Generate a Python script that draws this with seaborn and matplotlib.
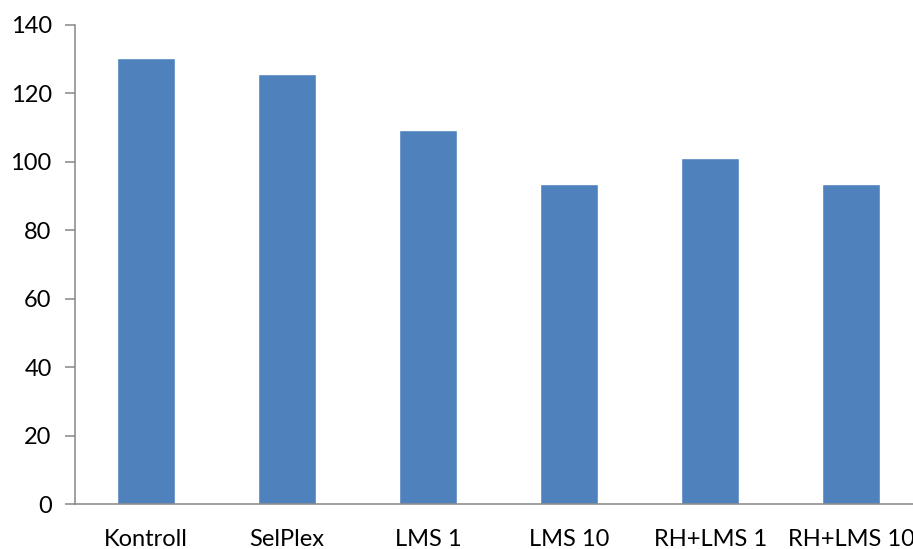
import matplotlib
matplotlib.use("Agg")
import matplotlib.pyplot as plt
import seaborn as sns
import pandas as pd

categories = ["Kontroll", "SelPlex", "LMS 1", "LMS 10", "RH+LMS 1", "RH+LMS 10"]
values = [130.3, 125.6, 109.3, 93.5, 101.1, 93.5]
y_ticks = [0, 20, 40, 60, 80, 100, 120, 140]

df = pd.DataFrame({"group": categories, "value": values})

sns.set_style("white")
plt.rcParams["font.family"] = ["Lato", "DejaVu Sans"]

fig = plt.figure(figsize=(9.13, 5.49), dpi=100)
ax = fig.add_axes([0.0825, 0.0814, 0.927, 0.8736])

sns.barplot(data=df, x="group", y="value", color="#4F81BD", saturation=1,
            width=0.41, ax=ax, errorbar=None)

axis_color = "#868686"
ax.set_xlim(-0.5, 5.5)
ax.set_ylim(0, 140)
ax.set_yticks(y_ticks)
ax.set_xlabel("")
ax.set_ylabel("")

for side in ("top", "right"):
    ax.spines[side].set_visible(False)
for side in ("left", "bottom"):
    ax.spines[side].set_color(axis_color)
    ax.spines[side].set_linewidth(1.1)

# category separators on the x axis
ax.set_xticks([i - 0.5 for i in range(len(categories))], minor=True)
ax.set_xticks(range(len(categories)))
ax.set_xticklabels(categories)
ax.tick_params(axis="x", which="major", length=0, pad=18, labelsize=17, labelcolor="black")
ax.tick_params(axis="x", which="minor", length=6, width=1.1, color=axis_color, direction="out")
ax.tick_params(axis="y", length=7, width=1.1, color=axis_color, direction="out",
               pad=10, labelsize=17, labelcolor="black", left=True)

fig.savefig("out.png", dpi=100)
